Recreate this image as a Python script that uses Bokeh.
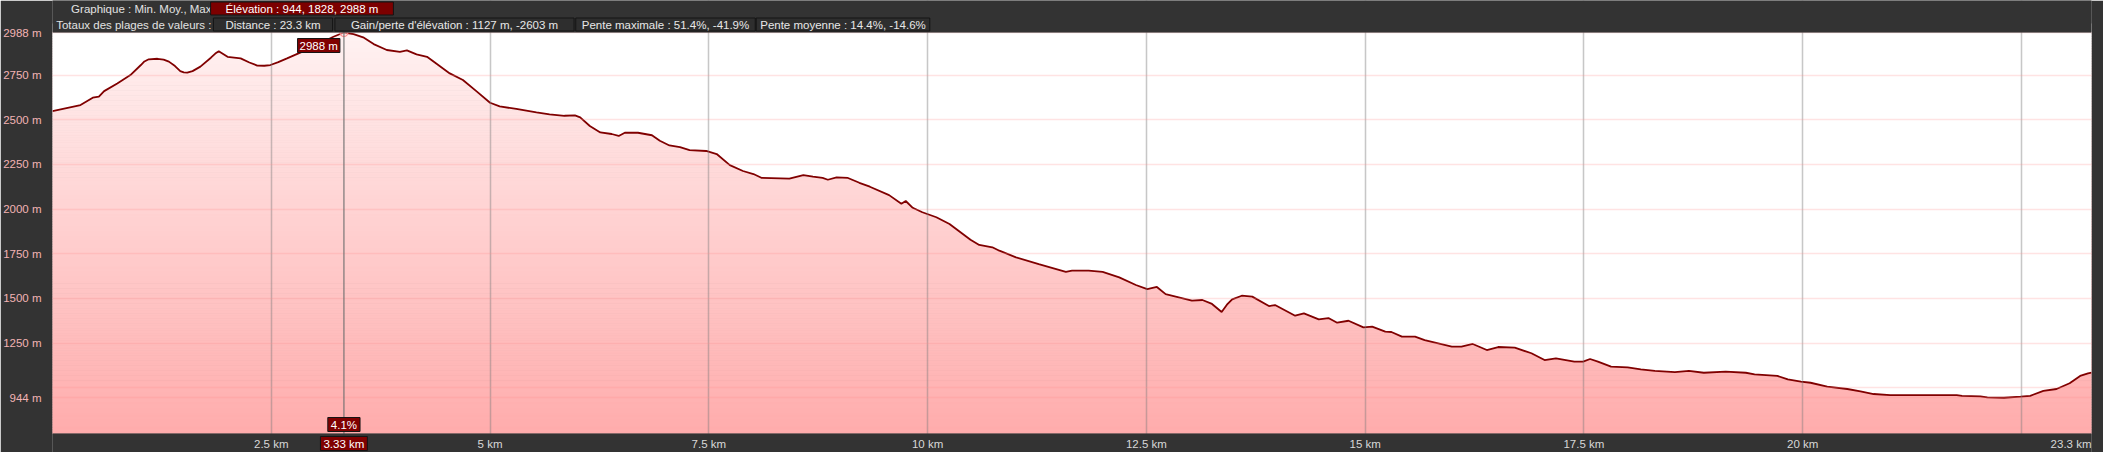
import numpy as np
from bokeh.plotting import figure
from bokeh.models import FixedTicker, Span, Label, Range1d, BoxAnnotation
from bokeh.embed import file_html
from bokeh.resources import INLINE

# ---------------- data ----------------
distance_km = [0.00, 0.32, 0.46, 0.53, 0.59, 0.74, 0.89, 1.01, 1.05, 1.10, 1.20, 1.27, 1.33, 1.40,
               1.46, 1.50, 1.54, 1.60, 1.69, 1.81, 1.86, 1.90, 1.95, 2.00, 2.15, 2.25, 2.34, 2.42,
               2.49, 2.58, 2.68, 2.87, 3.02, 3.21, 3.33, 3.44, 3.55, 3.67,
               3.82, 3.97, 4.05, 4.16, 4.28, 4.54, 4.69, 4.85, 5.00, 5.11, 5.30, 5.53, 5.68, 5.85,
               5.97, 6.03, 6.14, 6.26, 6.39, 6.47, 6.54, 6.69, 6.85, 6.94, 7.05, 7.17, 7.28, 7.47,
               7.59, 7.74, 7.89, 8.01, 8.10, 8.42, 8.58, 8.69, 8.80, 8.86, 8.96, 9.09, 9.22, 9.34,
               9.56, 9.70, 9.75, 9.83, 9.94, 10.10, 10.25, 10.49, 10.59, 10.74, 10.82, 11.01, 11.27,
               11.58, 11.65, 11.84, 12.00, 12.19, 12.38, 12.51, 12.62, 12.72, 13.02, 13.14, 13.25,
               13.36, 13.42, 13.48, 13.59, 13.71, 13.90, 13.97, 14.20, 14.30, 14.47, 14.58, 14.68,
               14.81, 14.98, 15.08, 15.23, 15.30, 15.42, 15.57, 15.68, 15.99, 16.10, 16.23, 16.39,
               16.52, 16.71, 16.90, 17.05, 17.18, 17.39, 17.49, 17.57, 17.66, 17.81, 18.00, 18.15,
               18.31, 18.54, 18.70, 18.87, 19.12, 19.35, 19.45, 19.71, 19.83, 19.98, 20.09, 20.28,
               20.51, 20.66, 20.81, 21.00, 21.76, 21.82, 22.03, 22.11, 22.30, 22.49, 22.60, 22.75,
               22.90, 23.05, 23.17, 23.26, 23.30]
elevation_m = [2548, 2582, 2623, 2629, 2660, 2703, 2750, 2806, 2826, 2838, 2841, 2836, 2825, 2800,
               2772, 2765, 2763, 2772, 2797, 2847, 2870, 2883, 2868, 2852, 2843, 2820, 2803, 2802,
               2806, 2822, 2843, 2884, 2918, 2964, 2988, 2979, 2961, 2923,
               2890, 2880, 2888, 2866, 2852, 2759, 2722, 2657, 2595, 2575, 2560, 2541, 2530, 2522,
               2524, 2513, 2465, 2429, 2420, 2409, 2427, 2427, 2413, 2382, 2356, 2347, 2330, 2325,
               2308, 2246, 2213, 2196, 2175, 2170, 2190, 2181, 2174, 2164, 2177, 2174, 2147, 2125,
               2078, 2030, 2045, 2007, 1982, 1954, 1916, 1828, 1799, 1786, 1767, 1730, 1692,
               1649, 1655, 1655, 1649, 1618, 1575, 1552, 1564, 1524, 1487, 1491, 1469,
               1424, 1465, 1495, 1515, 1510, 1457, 1463, 1403, 1416, 1383, 1390, 1364,
               1375, 1338, 1342, 1314, 1312, 1286, 1286, 1267, 1230, 1230, 1245, 1211,
               1228, 1224, 1193, 1155, 1165, 1146, 1146, 1161, 1146, 1118, 1114, 1103,
               1095, 1088, 1095, 1084, 1090, 1084, 1075, 1066, 1047, 1034, 1028, 1006,
               993, 980, 965, 959, 959, 954, 952, 946, 944, 950, 955, 982,
               993, 1025, 1066, 1081, 1085]

x_ticks = [2.5, 5, 7.5, 10, 12.5, 15, 17.5, 20, 22.5]
x_tick_labels = ["2.5 km", "5 km", "7.5 km", "10 km", "12.5 km", "15 km", "17.5 km", "20 km", ""]
x_end_label = "23.3 km"
y_ticks = [944, 1000, 1250, 1500, 1750, 2000, 2250, 2500, 2750, 2988]
y_tick_labels = ["944 m", "", "1250 m", "1500 m", "1750 m", "2000 m", "2250 m", "2500 m", "2750 m", "2988 m"]

cursor_km = 3.33
cursor_elev_label = "2988 m"
cursor_slope_label = "4.1%"
cursor_km_label = "3.33 km"

header_row1_title = "Graphique : Min. Moy., Max"
header_row1_boxes = ["Élévation : 944, 1828, 2988 m"]
header_row2_title = "Totaux des plages de valeurs :"
header_row2_boxes = ["Distance : 23.3 km",
                     "Gain/perte d'élévation : 1127 m, -2603 m",
                     "Pente maximale : 51.4%, -41.9%",
                     "Pente moyenne : 14.4%, -14.6%"]

# ---------------- layout constants ----------------
FONT = "Liberation Sans"
FS = "11.5px"
BG = "#333333"
W, H = 2103, 452
HEAD_PX, FOOT_PX = 32, 19          # header band above the plot area, tick-label band below
X0, X1 = 0, 23.3
Y0, Y1 = 744, 2988
m_per_px = (Y1 - Y0) / (H - HEAD_PX - FOOT_PX)
YB, YT = Y0 - FOOT_PX * m_per_px, Y1 + HEAD_PX * m_per_px

p = figure(width=W, height=H, output_backend="svg", toolbar_location=None,
           x_range=Range1d(X0, X1), y_range=Range1d(YB, YT),
           min_border_left=50, min_border_right=12, min_border_top=0, min_border_bottom=0)
p.border_fill_color = BG
p.background_fill_color = BG
p.outline_line_color = None

# gradient fill under the curve: gradient bands + white above curve
n = 160
edges = np.linspace(Y0, Y1, n + 1)
mid = (edges[:-1] + edges[1:]) / 2
frac = (mid - Y0) / (Y1 - Y0)
bot_rgb = np.array([255, 172, 172])
top_rgb = np.array([255, 242, 242])
cols = ["#%02x%02x%02x" % tuple(int(round(v)) for v in (bot_rgb + (top_rgb - bot_rgb) * f)) for f in frac]
p.quad(left=X0, right=X1, bottom=edges[:-1], top=edges[1:], fill_color=cols, line_color=cols, line_width=1)
p.varea(x=distance_km, y1=elevation_m, y2=Y1 + 50, fill_color="white")
p.line(distance_km, elevation_m, line_color="#800000", line_width=1.8)
p.scatter([cursor_km], [max(elevation_m)], size=8, line_color="#ff8a8a", fill_color="#ffd0d0",
          fill_alpha=0.5, line_width=1.2)

# axes
p.xaxis.ticker = FixedTicker(ticks=x_ticks)
p.xaxis.major_label_overrides = {t: l for t, l in zip(x_ticks, x_tick_labels)}
p.xaxis.fixed_location = Y0
p.xaxis.level = "overlay"
p.yaxis.ticker = FixedTicker(ticks=y_ticks)
p.yaxis.major_label_overrides = {t: l for t, l in zip(y_ticks, y_tick_labels)}
for ax in (p.xaxis, p.yaxis):
    ax.axis_line_color = None
    ax.major_tick_line_color = None
    ax.minor_tick_line_color = None
    ax.major_tick_out = 0
    ax.major_tick_in = 0
    ax.minor_tick_out = 0
    ax.major_label_text_font = FONT
    ax.major_label_text_font_size = FS
p.xaxis.major_label_text_color = "#d8d8d8"
p.xaxis.major_label_standoff = 4
p.yaxis.major_label_text_color = "#f2b4b4"
p.yaxis.major_label_standoff = 11

p.xgrid.grid_line_color = "#7a7a7a"
p.xgrid.grid_line_alpha = 0.42
p.xgrid.grid_line_width = 1.5
p.ygrid.grid_line_color = "#ff9090"
p.ygrid.grid_line_alpha = 0.25
p.ygrid.grid_line_width = 1.5
p.xgrid.level = "guide"
p.ygrid.level = "guide"

# cursor
p.add_layout(Span(location=cursor_km, dimension="height", line_color="#707070",
                  line_alpha=0.75, line_width=1.5))

# dark bands for header and tick-label rows, then plot-area border
p.add_layout(BoxAnnotation(left=X0, right=X1, bottom=Y1, top=YT, fill_color=BG, fill_alpha=1,
                           line_color=None))
p.add_layout(BoxAnnotation(left=X0, right=X1, bottom=YB, top=Y0, fill_color=BG, fill_alpha=1,
                           line_color=None))
p.add_layout(BoxAnnotation(left=X0, right=X1, bottom=Y0, top=Y1, fill_alpha=0,
                           line_color="#5a5a5a", line_width=1))


def box_label(text, x, y, x_units="data", y_units="data", x_off=0, y_off=0, align="center",
              baseline="middle", fill="#800000", color="white", pad=(2, 2, 1, 1)):
    return Label(x=x, y=y, x_units=x_units, y_units=y_units, x_offset=x_off, y_offset=y_off,
                 text=text, text_align=align, text_baseline=baseline,
                 text_font=FONT, text_font_size=FS, text_color=color,
                 background_fill_color=fill, border_line_color="#141414", border_line_width=1,
                 padding=dict(left=pad[0], right=pad[1], top=pad[2], bottom=pad[3]))


p.add_layout(box_label(cursor_elev_label, cursor_km, Y1, x_off=-4, y_off=-6, align="right",
                       baseline="top", pad=(2, 2, 1, 1)))
p.add_layout(box_label(cursor_slope_label, cursor_km, Y0, y_off=2, baseline="bottom",
                       pad=(3, 3, 1, 1)))
p.add_layout(box_label(cursor_km_label, cursor_km, Y0, y_off=-3, baseline="top",
                       pad=(3, 3, 1, 1)))
p.add_layout(Label(x=X1, y=Y0, y_offset=-4, text=x_end_label, text_align="right", text_baseline="top",
                   text_font=FONT, text_font_size=FS, text_color="#d8d8d8"))

# header (x in screen px from frame left, y as offset above plot top)
ROW1, ROW2 = 24, 8
p.add_layout(Label(x=159, y=Y1, x_units="screen", y_offset=ROW1, text=header_row1_title,
                   text_align="right", text_baseline="middle", text_font=FONT, text_font_size=FS,
                   text_color="#e2e2e2"))
p.add_layout(Label(x=159, y=Y1, x_units="screen", y_offset=ROW2, text=header_row2_title,
                   text_align="right", text_baseline="middle", text_font=FONT, text_font_size=FS,
                   text_color="#e2e2e2"))
row1_centers = [249.5]
row1_pads = [15]
for t, cx, pd in zip(header_row1_boxes, row1_centers, row1_pads):
    p.add_layout(box_label(t, cx, Y1, x_units="screen", y_off=ROW1, fill="#7c0000",
                           color="#ffffff", pad=(pd, pd, 1, 0)))
row2_centers = [220.5, 402, 613, 790.5]
row2_pads = [12, 16, 6, 4]
for t, cx, pd in zip(header_row2_boxes, row2_centers, row2_pads):
    p.add_layout(box_label(t, cx, Y1, x_units="screen", y_off=ROW2, fill="#2e2e2e",
                           color="#e8e8e8", pad=(pd, pd, 1, 0)))

open("out.html", "w").write(file_html(p, INLINE))
